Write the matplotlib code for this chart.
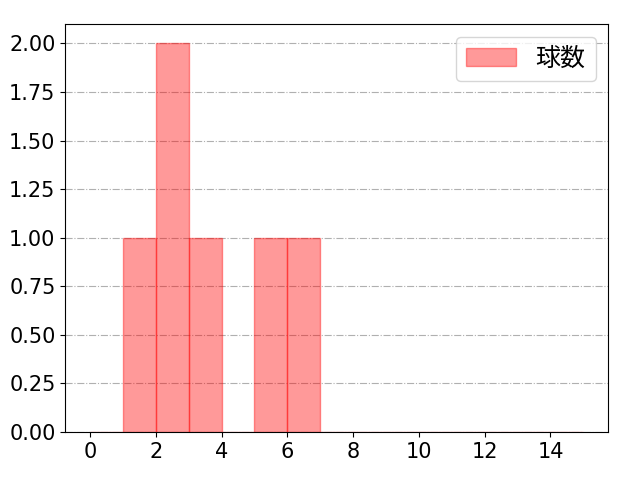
import numpy as np
import matplotlib
matplotlib.use("Agg")
import matplotlib.pyplot as plt

plt.rcParams['font.family'] = ['DejaVu Sans', 'Noto Sans CJK JP']

# observed values (one entry per observation), histogram bins of width 1
values = [1, 2, 2, 3, 5, 6]
bin_edges = list(range(0, 16))
label = "球数"

fig, ax = plt.subplots(figsize=(6.4, 4.8), dpi=100)
ax.hist(values, bins=bin_edges, color="red", alpha=0.4, edgecolor="red", label=label)
ax.grid(True, axis="y", linestyle="-.", color="#b0b0b0")
ax.set_axisbelow(True)
ax.set_xticks(range(0, 15, 2))
ax.yaxis.set_major_formatter(matplotlib.ticker.FormatStrFormatter("%.2f"))
ax.tick_params(labelsize=15)
ax.legend(loc="upper right", fontsize=18)
plt.subplots_adjust(left=0.102, right=0.95, top=0.95, bottom=0.1)
plt.savefig("out.png")
